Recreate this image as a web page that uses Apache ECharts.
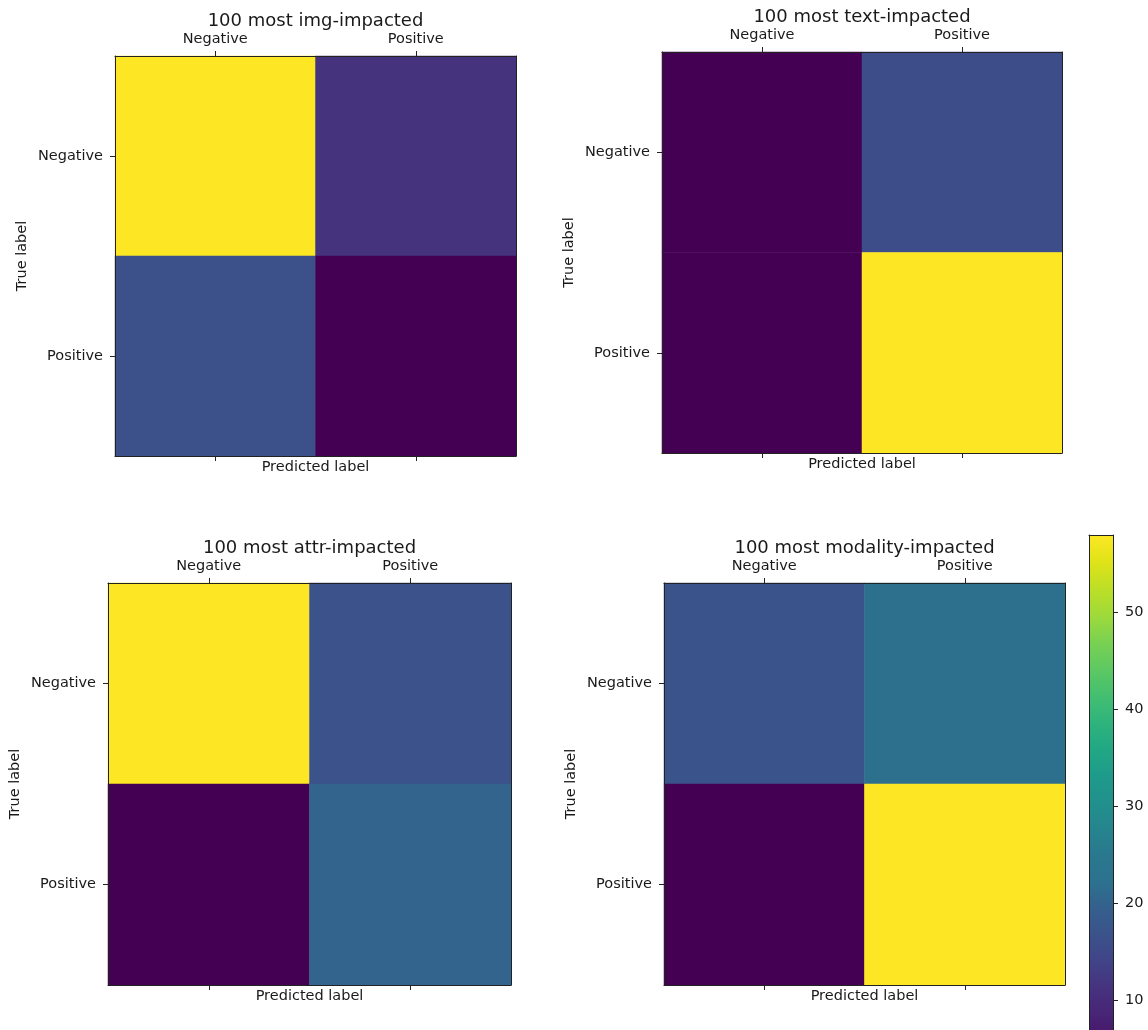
<!DOCTYPE html>
<html>
<head>
<meta charset="utf-8">
<script src="https://cdn.jsdelivr.net/npm/echarts@6/dist/echarts.min.js"></script>
<style>
html,body{margin:0;padding:0;background:#fff;}
#chart{width:1148px;height:1030px;}
</style>
</head>
<body>
<div id="chart"></div>
<script>
// ---- data ----
const categories = ['Negative', 'Positive'];
const panelTitles = ['100 most img-impacted', '100 most text-impacted', '100 most attr-impacted', '100 most modality-impacted'];
// rows = true label (Negative, Positive), columns = predicted label (Negative, Positive)
const imgValues = [[68, 12], [18, 2]];
const textValues = [[1, 19], [1, 79]];
const attrValues = [[64, 16], [0, 20]];
const modalityValues = [[17, 22], [3, 58]];
const colorbarTicks = [10, 20, 30, 40, 50];
const xAxisName = 'Predicted label';
const yAxisName = 'True label';

// ---- style ----
const viridis = ['#440154','#471365','#482475','#46327e','#414487','#3b528b','#355f8d','#2c728e','#2a788e','#25858e','#21918c','#1e9b8a','#22a884','#2fb47c','#44bf70','#5ec962','#7ad151','#9fda3a','#bddf26','#dfe318','#fde725'];
const FONT = 'DejaVu Sans';
const TXT = '#1a1a1a';
const LINE = '#222';
const panels = [
  {left: 115, top: 56, width: 401, height: 400},
  {left: 662, top: 52, width: 400, height: 401},
  {left: 108, top: 583, width: 403, height: 402},
  {left: 664, top: 583, width: 401, height: 402}
];
const cbar = {left: 1089, top: 535, width: 24, pxPerUnit: 9.7};

const allValues = [imgValues, textValues, attrValues, modalityValues];

const grids = [], xAxes = [], yAxes = [], series = [], visualMaps = [], titles = [];

allValues.forEach((vals, i) => {
  const p = panels[i];
  grids.push({left: p.left, top: p.top, width: p.width, height: p.height, outerBoundsMode: 'none', containLabel: false});
  const data = [];
  vals.forEach((row, r) => row.forEach((v, c) => data.push([c, r, v])));
  const flat = vals.flat();
  const vmin = Math.min(...flat), vmax = Math.max(...flat);

  xAxes.push({
    gridIndex: i, type: 'category', data: categories, position: 'top', z: 10,
    axisLine: {show: true, lineStyle: {color: LINE, width: 1}},
    axisTick: {show: true, alignWithLabel: true, length: 5, lineStyle: {color: LINE}},
    axisLabel: {fontFamily: FONT, fontSize: 14.5, color: TXT, margin: 9},
    splitLine: {show: false}
  });
  xAxes.push({
    gridIndex: i, type: 'category', data: categories, position: 'bottom', z: 10,
    axisLine: {show: true, lineStyle: {color: LINE, width: 1}},
    axisTick: {show: true, alignWithLabel: true, length: 5, lineStyle: {color: LINE}},
    axisLabel: {show: false},
    splitLine: {show: false},
    name: xAxisName, nameLocation: 'middle', nameGap: 4,
    nameTextStyle: {fontFamily: FONT, fontSize: 14.5, color: TXT}
  });
  yAxes.push({
    gridIndex: i, type: 'category', data: categories, inverse: true, position: 'left', z: 10,
    axisLine: {show: true, lineStyle: {color: LINE, width: 1}},
    axisTick: {show: true, alignWithLabel: true, length: 5, lineStyle: {color: LINE}},
    axisLabel: {fontFamily: FONT, fontSize: 14.5, color: TXT, margin: 12},
    splitLine: {show: false},
    name: yAxisName, nameLocation: 'middle', nameGap: 85, nameRotate: 90,
    nameTextStyle: {fontFamily: FONT, fontSize: 14.5, color: TXT}
  });
  yAxes.push({
    gridIndex: i, type: 'category', data: categories, inverse: true, position: 'right', z: 10,
    axisLine: {show: true, lineStyle: {color: LINE, width: 1}},
    axisTick: {show: false}, axisLabel: {show: false}, splitLine: {show: false}
  });
  series.push({
    type: 'heatmap', xAxisIndex: 2 * i, yAxisIndex: 2 * i, data: data,
    itemStyle: {borderWidth: 0}, emphasis: {disabled: true}, label: {show: false}
  });
  visualMaps.push({
    type: 'continuous', seriesIndex: i, min: vmin, max: vmax, dimension: 2,
    inRange: {color: viridis}, show: false, calculable: false, hoverLink: false
  });
  titles.push({
    text: panelTitles[i], left: p.left + p.width / 2, top: p.top - 44, textAlign: 'center', padding: 0,
    textStyle: {fontFamily: FONT, fontSize: 18, fontWeight: 'normal', color: TXT}
  });
});

// colorbar (grid index 4), scaled to the modality panel's value range
const cbMin = Math.min(...modalityValues.flat()), cbMax = Math.max(...modalityValues.flat());
grids.push({left: cbar.left, top: cbar.top, width: cbar.width, height: (cbMax - cbMin) * cbar.pxPerUnit, outerBoundsMode: 'none', containLabel: false});
xAxes.push({
  gridIndex: 4, type: 'category', data: ['cb'], position: 'top', z: 10,
  axisLine: {show: true, lineStyle: {color: LINE}}, axisTick: {show: false}, axisLabel: {show: false}, splitLine: {show: false}
});
yAxes.push({
  gridIndex: 4, type: 'value', min: cbMin, max: cbMax, position: 'left', z: 10,
  axisLine: {show: true, lineStyle: {color: LINE}}, axisTick: {show: false}, axisLabel: {show: false}, splitLine: {show: false}
});
yAxes.push({
  gridIndex: 4, type: 'value', min: cbMin, max: cbMax, position: 'right', z: 10,
  axisLine: {show: true, lineStyle: {color: LINE}},
  axisTick: {show: true, length: 5, lineStyle: {color: LINE}, customValues: colorbarTicks},
  axisLabel: {fontFamily: FONT, fontSize: 14.5, color: TXT, margin: 12, customValues: colorbarTicks},
  splitLine: {show: false}
});
const cbYIndex = yAxes.length - 2;
const gradStops = viridis.slice().reverse().map((c, k, arr) => ({offset: k / (arr.length - 1), color: c}));
series.push({
  type: 'bar', xAxisIndex: 8, yAxisIndex: cbYIndex, stack: 'cb', barWidth: '100%', silent: true,
  itemStyle: {color: 'rgba(0,0,0,0)'}, data: [cbMin]
});
series.push({
  type: 'bar', xAxisIndex: 8, yAxisIndex: cbYIndex, stack: 'cb', barWidth: '100%', silent: true,
  itemStyle: {color: new echarts.graphic.LinearGradient(0, 0, 0, 1, gradStops)}, data: [cbMax - cbMin]
});

const chart = echarts.init(document.getElementById('chart'), null, {renderer: 'canvas'});
chart.setOption({
  animation: false,
  backgroundColor: '#ffffff',
  title: titles,
  grid: grids,
  xAxis: xAxes,
  yAxis: yAxes,
  visualMap: visualMaps,
  series: series
});
</script>
</body>
</html>
